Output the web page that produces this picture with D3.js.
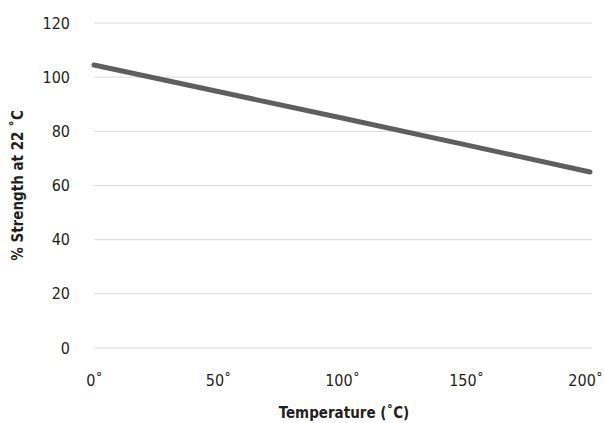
<!DOCTYPE html>
<html>
<head>
<meta charset="utf-8">
<script src="https://cdn.jsdelivr.net/npm/d3@7"></script>
<style>
  body { margin: 0; background: #fff; }
  text { font-family: "DejaVu Sans Condensed", "DejaVu Sans", sans-serif; font-stretch: condensed; fill: #231f20; }
</style>
</head>
<body>
<div class="chart"></div>
<script>
// values
const temps = [0, 50, 100, 150, 200];
const strength = [104.5, 94.7, 84.9, 75, 65];
const yTicks = [0, 20, 40, 60, 80, 100, 120];

const margin = {top: 23, right: 14, bottom: 75, left: 94},
    width = 604 - margin.left - margin.right,
    height = 423 - margin.top - margin.bottom;

const svg = d3.select(".chart")
  .append("svg")
    .attr("width", 604)
    .attr("height", 423)
  .append("g")
    .attr("transform", `translate(${margin.left},${margin.top})`);

const x = d3.scaleLinear().domain([0, 200]).range([0, 496]);
const y = d3.scaleLinear().domain([0, 120]).range([height, 0]);

const fontFam = '"DejaVu Sans Condensed", "DejaVu Sans", sans-serif';

// gridlines
svg.append("g")
  .selectAll("line")
  .data(yTicks)
  .join("line")
    .attr("x1", 0)
    .attr("x2", 498)
    .attr("y1", d => y(d))
    .attr("y2", d => y(d))
    .attr("stroke", "#d9d9d9")
    .attr("stroke-width", 1);

// y axis labels
const yAxis = svg.append("g")
  .attr("transform", "translate(-24,0)")
  .call(d3.axisLeft(y).tickValues(yTicks).tickSize(0).tickPadding(0));
yAxis.select(".domain").remove();
yAxis.selectAll("text")
  .style("font-size", "16px")
  .style("font-family", fontFam)
  .attr("fill", "#231f20");

// x axis labels
const xAxis = svg.append("g")
  .attr("transform", `translate(0, ${height})`)
  .call(d3.axisBottom(x).tickValues(temps).tickSize(0).tickPadding(27)
    .tickFormat(d => d + "˚"));
xAxis.select(".domain").remove();
xAxis.selectAll("text")
  .style("font-size", "16px")
  .style("font-family", fontFam)
  .attr("fill", "#231f20");

// keep the last label inside the window
xAxis.selectAll("text").each(function () {
  const box = this.getBBox();
  const tick = this.parentNode.transform.baseVal.consolidate().matrix.e;
  const over = margin.left + tick + box.x + box.width - 603;
  if (over > 0) d3.select(this).attr("dx", -over);
});

// line
const line = d3.line()
  .x((d, i) => x(temps[i]))
  .y(d => y(d));

svg.append("path")
  .datum(strength)
  .attr("fill", "none")
  .attr("stroke", "#5d605d")
  .attr("stroke-width", 5)
  .attr("stroke-linecap", "round")
  .attr("d", line);

// axis titles
svg.append("text")
  .attr("x", 250)
  .attr("y", height + 70)
  .style("text-anchor", "middle")
  .style("font-size", "15px")
  .style("font-weight", "bold")
  .text("Temperature (˚C)");

svg.append("text")
  .attr("transform", "rotate(-90)")
  .attr("x", -y(60))
  .attr("y", -71)
  .style("text-anchor", "middle")
  .style("font-size", "15px")
  .style("font-weight", "bold")
  .text("% Strength at 22 ˚C");
</script>
</body>
</html>
